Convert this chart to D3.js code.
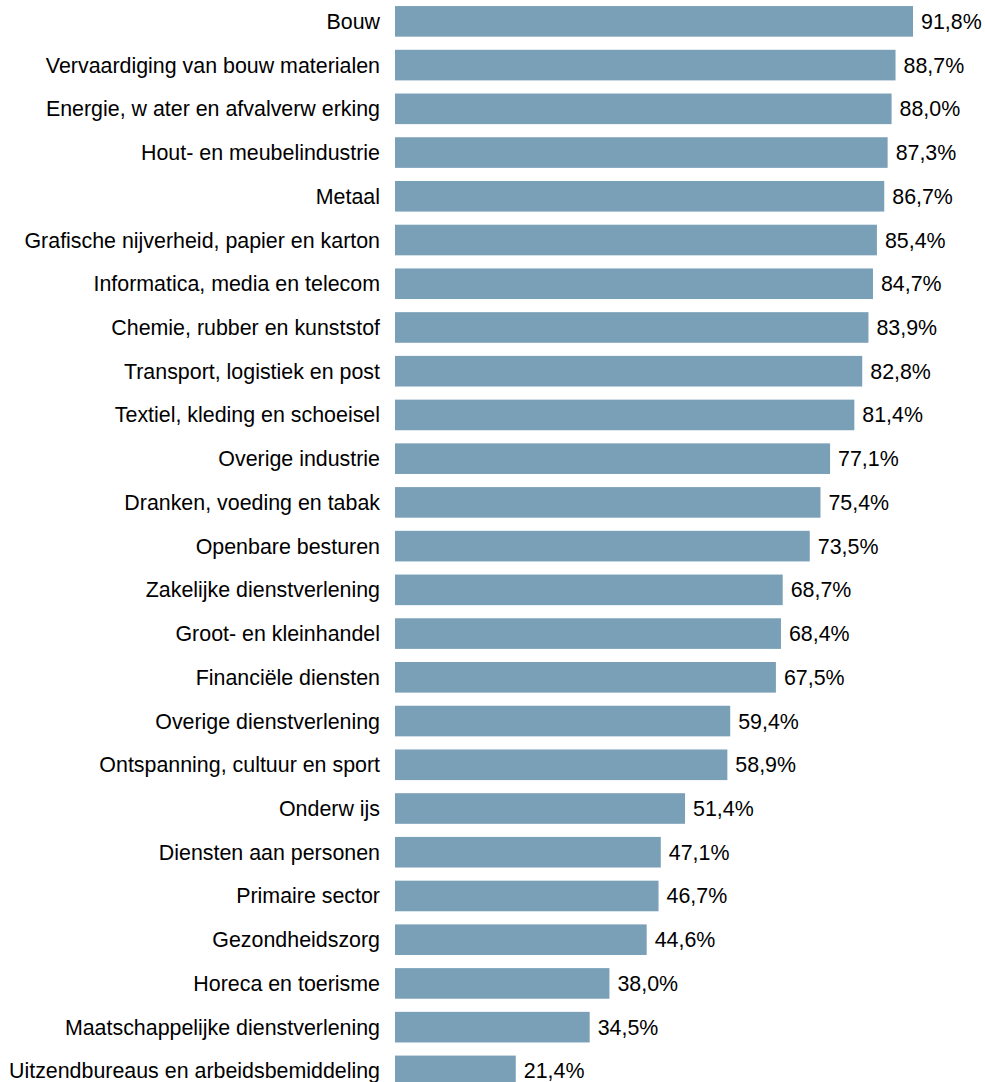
<!DOCTYPE html>
<html>
<head>
<meta charset="utf-8">
<script src="https://cdn.jsdelivr.net/npm/d3@7/dist/d3.min.js"></script>
<style>
  html, body { margin: 0; padding: 0; background: #ffffff; }
  svg { display: block; }
  text { font-family: "Liberation Sans", Arial, sans-serif; fill: #000; }
</style>
</head>
<body>
<svg id="chart" width="985" height="1082"></svg>
<script>
const categories = [
  "Bouw",
  "Vervaardiging van bouw materialen",
  "Energie, w ater en afvalverw erking",
  "Hout- en meubelindustrie",
  "Metaal",
  "Grafische nijverheid, papier en karton",
  "Informatica, media en telecom",
  "Chemie, rubber en kunststof",
  "Transport, logistiek en post",
  "Textiel, kleding en schoeisel",
  "Overige industrie",
  "Dranken, voeding en tabak",
  "Openbare besturen",
  "Zakelijke dienstverlening",
  "Groot- en kleinhandel",
  "Financiële diensten",
  "Overige dienstverlening",
  "Ontspanning, cultuur en sport",
  "Onderw ijs",
  "Diensten aan personen",
  "Primaire sector",
  "Gezondheidszorg",
  "Horeca en toerisme",
  "Maatschappelijke dienstverlening",
  "Uitzendbureaus en arbeidsbemiddeling"
];
const values = [91.8, 88.7, 88.0, 87.3, 86.7, 85.4, 84.7, 83.9, 82.8, 81.4, 77.1, 75.4, 73.5, 68.7, 68.4, 67.5, 59.4, 58.9, 51.4, 47.1, 46.7, 44.6, 38.0, 34.5, 21.4];

const data = categories.map((c, i) => ({ cat: c, val: values[i] }));
const svg = d3.select("#chart");

const x = d3.scaleLinear().domain([0, 100]).range([395, 395 + 564.3]);
const y = d3.scaleBand().domain(categories).range([-0.5, 1092.75]).paddingInner(0.3).paddingOuter(0.15);

const fmt = v => d3.format(".1f")(v).replace(".", ",") + "%";

svg.selectAll("rect.bar").data(data).join("rect")
  .attr("class", "bar")
  .attr("x", x(0))
  .attr("y", d => y(d.cat))
  .attr("width", d => x(d.val) - x(0))
  .attr("height", y.bandwidth())
  .attr("fill", "#7aa0b8");

svg.selectAll("text.cat").data(data).join("text")
  .attr("class", "cat")
  .attr("x", 380)
  .attr("y", d => y(d.cat) + y.bandwidth() / 2)
  .attr("dy", "0.35em")
  .attr("text-anchor", "end")
  .style("font-size", "21.4px")
  .text(d => d.cat);

svg.selectAll("text.val").data(data).join("text")
  .attr("class", "val")
  .attr("x", d => x(d.val) + 8)
  .attr("y", d => y(d.cat) + y.bandwidth() / 2)
  .attr("dy", "0.35em")
  .attr("text-anchor", "start")
  .style("font-size", "21.4px")
  .text(d => fmt(d.val));
</script>
</body>
</html>
